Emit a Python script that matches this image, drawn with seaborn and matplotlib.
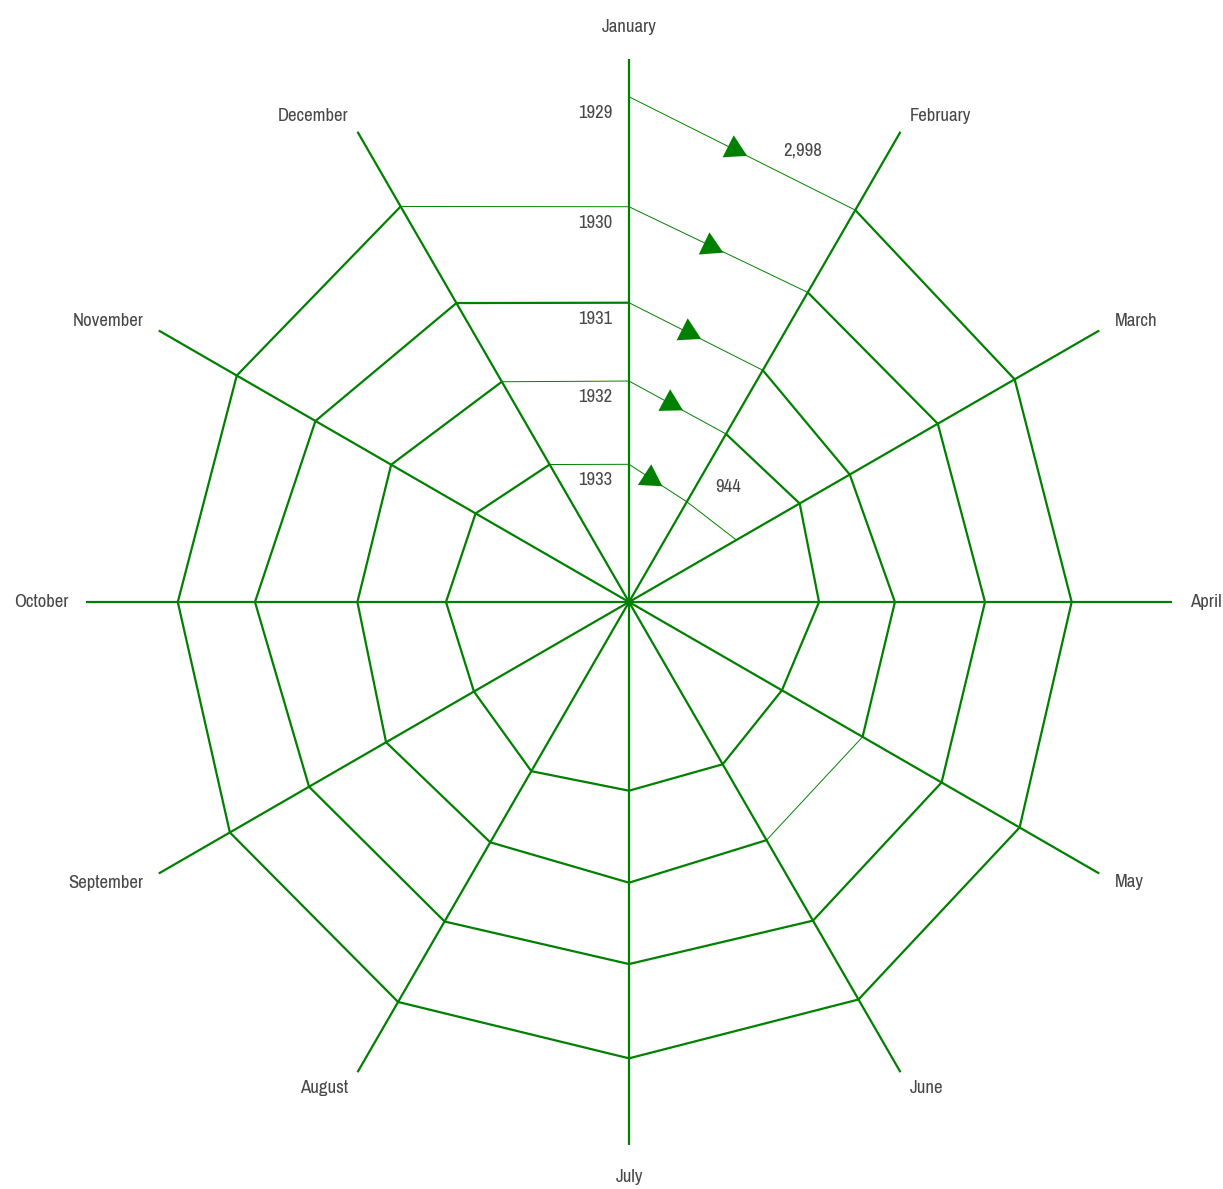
import numpy as np
import pandas as pd
import matplotlib
matplotlib.use('Agg')
import matplotlib.pyplot as plt
import seaborn as sns
from matplotlib import font_manager

# world trade, monthly values spiralling inwards
months = ['January', 'February', 'March', 'April', 'May', 'June', 'July',
          'August', 'September', 'October', 'November', 'December']
years = [1929, 1930, 1931, 1932, 1933]
trade_1929 = [2998, 2720, 2682, 2668, 2712, 2754, 2740, 2769, 2764, 2713, 2722, 2742]
trade_1930 = [2418, 2219, 2214, 2211, 2237, 2274, 2243, 2279, 2282, 2306, 2243, 2154]
trade_1931 = [1912, 1745, 1678, 1736, 1756, 1784, 1814, 1797, 1813, 1766, 1782, 1675]
trade_1932 = [1499, 1357, 1373, 1336, 1265, 1322, 1329, 1364, 1278, 1299, 1268, 1171]
trade_1933 = [1060, 944, 988]

# segments drawn with a thin stroke: (year, month the segment starts at)
thin_from = {(1929, 'January'), (1929, 'December'), (1930, 'January'),
             (1931, 'January'), (1931, 'May'), (1931, 'December'),
             (1932, 'January'), (1932, 'December'), (1933, 'January'),
             (1933, 'February')}

GREEN = '#008000'
TEXT = '#484848'

# prefer a narrow face if one is installed
fonts = font_manager.fontManager.ttflist
narrow = sorted({f.name for f in fonts
                 if 'Narrow' in f.name or 'Condensed' in f.name or 'condensed' in str(f.stretch)})
if narrow:
    family, fsize, fweight = [narrow[0], 'DejaVu Sans'], 13.5, 'normal'
else:
    family, fsize, fweight = ['Roboto', 'DejaVu Sans'], 12, 'light'

sns.set_theme(style='white')
plt.rcParams['font.family'] = family
plt.rcParams['font.weight'] = fweight

rows = []
for year, vals in zip(years, [trade_1929, trade_1930, trade_1931, trade_1932, trade_1933]):
    for m, v in enumerate(vals):
        rows.append({'year': year, 'month': months[m], 'value': v})
df = pd.DataFrame(rows)
df['theta'] = 2 * np.pi * np.arange(len(df)) / 12

seg_rows = []
for i in range(len(df) - 1):
    a, b = df.iloc[i], df.iloc[i + 1]
    w = 'thin' if (a['year'], a['month']) in thin_from else 'thick'
    for p in (a, b):
        seg_rows.append({'seg': i, 'theta': p['theta'], 'value': p['value'], 'stroke': w})
seg_df = pd.DataFrame(seg_rows)

W, H = 1223, 1189
fig = plt.figure(figsize=(W / 100, H / 100), dpi=100)
cx, cy, R = 629, 602, 543
ax = fig.add_axes([(cx - R) / W, (H - cy - R) / H, 2 * R / W, 2 * R / H], projection='polar')
ax.set_theta_zero_location('N')
ax.set_theta_direction(-1)
rmin, rmax = 334, 3197
ax.set_ylim(rmin, rmax)

sns.lineplot(data=seg_df, x='theta', y='value', units='seg', estimator=None, sort=False,
             size='stroke', sizes={'thick': 1.6, 'thin': 0.7}, color=GREEN,
             legend=False, ax=ax, zorder=3)

# spokes
month_theta = 2 * np.pi * np.arange(12) / 12
ax.set_xticks(month_theta)
ax.set_xticklabels([])
ax.tick_params(axis='x', length=0)
ax.xaxis.grid(True, color=GREEN, linewidth=1.6)
ax.yaxis.grid(False)
ax.set_yticks([])
ax.spines['polar'].set_visible(False)
ax.set_xlabel('')
ax.set_ylabel('')

# month labels just beyond the spoke ends
for name, t in zip(months, month_theta):
    s, c = np.sin(t), np.cos(t)
    if abs(s) < 1e-6:
        ha, va, pad = 'center', ('bottom' if c > 0 else 'top'), 24
    else:
        ha, va, pad = ('left' if s > 0 else 'right'), 'center', 18
    pad_pt = pad * 72 / 100
    ax.annotate(name, xy=(t, rmax), xytext=(s * pad_pt, c * pad_pt),
                textcoords='offset points', ha=ha, va=va, fontsize=fsize,
                color=TEXT, annotation_clip=False)

# direction arrows half way along each January -> February segment
inv = ax.transData.inverted()
for year in years:
    jan = df[(df['year'] == year) & (df['month'] == 'January')].iloc[0]
    feb = df[(df['year'] == year) & (df['month'] == 'February')].iloc[0]
    p0 = ax.transData.transform((jan['theta'], jan['value']))
    p1 = ax.transData.transform((feb['theta'], feb['value']))
    d = (p1 - p0) / np.hypot(*(p1 - p0))
    c = (p0 + p1) / 2 - 9 * d
    t, r = inv.transform(c)
    rot = np.degrees(np.arctan2(d[1], d[0])) - 90
    ax.scatter([t], [r], marker=(3, 0, rot), s=420, color=GREEN, linewidths=0, zorder=5)

    ax.annotate(str(year), xy=(jan['theta'], jan['value']), xytext=(-12, -11.5),
                textcoords='offset points', ha='right', va='center',
                fontsize=fsize, color=TEXT)

# max / min values
top = df.loc[df['value'].idxmax()]
low = df.loc[df['value'].idxmin()]
ax.annotate(f"{top['value']:,.0f}", xy=(top['theta'], top['value']), xytext=(125, -39),
            textcoords='offset points', ha='center', va='center', fontsize=fsize, color=TEXT)
ax.annotate(f"{low['value']:,.0f}", xy=(low['theta'], low['value']), xytext=(30, 11),
            textcoords='offset points', ha='center', va='center', fontsize=fsize, color=TEXT)

fig.savefig('out.png', dpi=100, facecolor='white')
